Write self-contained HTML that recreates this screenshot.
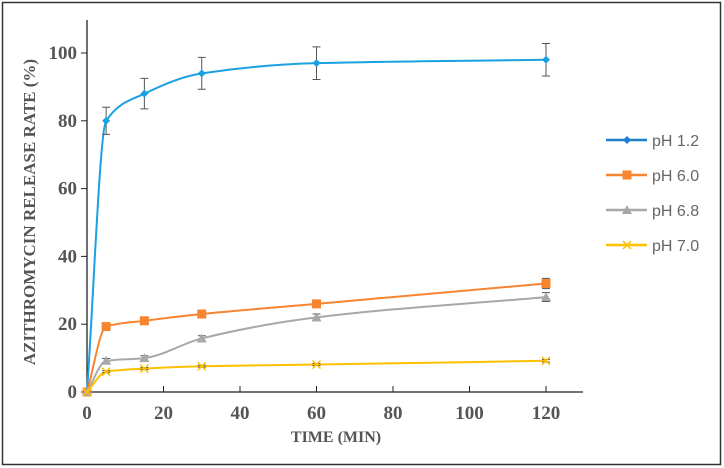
<!DOCTYPE html>
<html><head><meta charset="utf-8"><style>
body{margin:0;background:#fff;}
svg{display:block;font-family:"Liberation Serif",serif;}
</style></head><body>
<svg width="724" height="468">
<rect x="2.5" y="2.5" width="718" height="462" fill="#fff" stroke="#333" stroke-width="1.5"/>
<g id="axes"></g>
<g id="series"></g>
<g id="legend"></g>
</svg>
<script>
const times=[0,5,15,30,60,120];
const ph12=[0,80,88,94,97,98];
const ph12err=[0,4,4.5,4.7,4.8,4.8];
const ph60=[0,19.3,21,23,26,32];
const ph60err=[0,0.8,1,1,1,1.5];
const ph68=[0,9.2,10,15.8,22,28];
const ph68err=[0,0.7,0.7,0.8,1,1.3];
const ph70=[0,6,6.9,7.6,8.1,9.2];
const ph70err=[0,0.3,0.3,0.3,0.3,0.4];
const xTicks=[0,20,40,60,80,100,120];
const yTicks=[0,20,40,60,80,100];
const names=["pH 1.2","pH 6.0","pH 6.8","pH 7.0"];
const NS="http://www.w3.org/2000/svg";
const X=v=>87+v*3.825, Y=v=>392-v*3.39;
function mk(t,a,p){const e=document.createElementNS(NS,t);for(const k in a)e.setAttribute(k,a[k]);(p||document.getElementById('axes')).appendChild(e);return e;}
let e=mk('line',{x1:87,y1:20,x2:87,y2:392,stroke:'#222','stroke-width':1.3});


e=mk('line',{x1:87,y1:392,x2:583,y2:392,stroke:'#222','stroke-width':1.3});


yTicks.forEach(v=>{mk('line',{x1:81,x2:87,y1:Y(v),y2:Y(v),stroke:'#222'});
 const t=mk('text',{x:77,y:Y(v)+6,'text-anchor':'end','font-size':19,'font-weight':'bold',fill:'#555'});t.textContent=v;
 
 });
xTicks.forEach(v=>{mk('line',{x1:X(v),x2:X(v),y1:386,y2:392,stroke:'#222'});
 const t=mk('text',{x:X(v),y:419,'text-anchor':'middle','font-size':19,'font-weight':'bold',fill:'#555'});t.textContent=v;
 
 });
e=mk('text',{x:336,y:442,'text-anchor':'middle','font-size':16,'font-weight':'bold',fill:'#555'});e.textContent='TIME (MIN)';


e=mk('text',{x:0,y:0,transform:'translate(35,212) rotate(-90)','text-anchor':'middle','font-size':17,'font-weight':'bold',fill:'#555'});e.textContent='AZITHROMYCIN RELEASE RATE (%)';


const series=[[ph12,ph12err,'#1ba1e2','diamond'],[ph60,ph60err,'#f7842e','square'],[ph68,ph68err,'#a8a8a8','triangle'],[ph70,ph70err,'#ffc000','x']];
const sg=document.getElementById('series');
function marker(s,x,y,c,g){
 if(s==='diamond')return mk('path',{d:`M${x} ${y-4}L${x+4} ${y}L${x} ${y+4}L${x-4} ${y}Z`,fill:c},g);
 if(s==='square')return mk('rect',{x:x-4.5,y:y-4.5,width:9,height:9,fill:c},g);
 if(s==='triangle')return mk('path',{d:`M${x} ${y-5}L${x+5} ${y+4}L${x-5} ${y+4}Z`,fill:c},g);
 return mk('path',{d:`M${x-4} ${y-4}L${x+4} ${y+4}M${x+4} ${y-4}L${x-4} ${y+4}`,stroke:c,'stroke-width':1.5},g);
}
function monotone(P){
 const n=P.length,dx=[],m=[],t=[];
 for(let k=0;k<n-1;k++){dx[k]=P[k+1][0]-P[k][0];m[k]=(P[k+1][1]-P[k][1])/dx[k];}
 t[0]=m[0];t[n-1]=m[n-2];
 for(let k=1;k<n-1;k++){
  if(m[k-1]*m[k]<=0)t[k]=0;
  else{const w1=2*dx[k]+dx[k-1],w2=dx[k]+2*dx[k-1];t[k]=(w1+w2)/(w1/m[k-1]+w2/m[k]);}
 }
 let d=`M${P[0][0]} ${P[0][1]}`;
 for(let k=0;k<n-1;k++){const h=dx[k]/3;
  d+=`C${P[k][0]+h} ${P[k][1]+t[k]*h} ${P[k+1][0]-h} ${P[k+1][1]-t[k+1]*h} ${P[k+1][0]} ${P[k+1][1]}`;}
 return d;
}
series.forEach((s,i)=>{
 const g=mk('g',{},sg);
 
 
 const P=times.map((t,k)=>[X(t),Y(s[0][k])]);
 const ln=mk('path',{d:monotone(P),fill:'none',stroke:s[2],'stroke-width':2},g);
 
 
 P.forEach((p,k)=>{
  if(k>0){const e1=Y(s[0][k]+s[1][k]),e2=Y(s[0][k]-s[1][k]);
   mk('path',{d:`M${p[0]} ${e1}V${e2}M${p[0]-4} ${e1}H${p[0]+4}M${p[0]-4} ${e2}H${p[0]+4}`,stroke:'#555','stroke-width':1,fill:'none'},g);}
  const m=marker(s[3],p[0],p[1],s[2],g);
  
  
 });
});
const lg=document.getElementById('legend');
const lcol=['#1f7fcf','#f7842e','#a8a8a8','#ffc000'];
names.forEach((n,i)=>{
 const y=140+i*35;const g=mk('g',{},lg);
 
 
 mk('line',{x1:606,x2:647,y1:y,y2:y,stroke:lcol[i],'stroke-width':2.5},g);
 marker(series[i][3],627,y,lcol[i],g);
 const t=mk('text',{x:652,y:y+6,'font-size':16,fill:'#666','font-family':'Liberation Sans,sans-serif'},g);t.textContent=n;
});
</script>
</body></html>
